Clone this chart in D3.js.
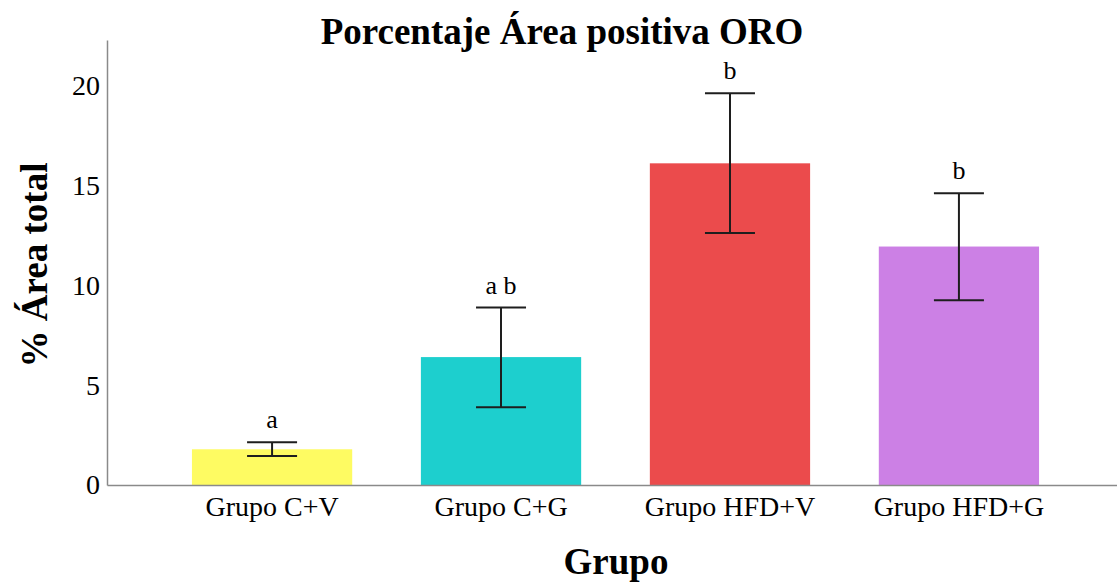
<!DOCTYPE html>
<html>
<head>
<meta charset="utf-8">
<script src="https://cdn.jsdelivr.net/npm/d3@7"></script>
<style>
  html, body { margin: 0; padding: 0; background: #fff; }
  svg { display: block; }
  text { font-family: "Liberation Serif", "Times New Roman", serif; fill: #000; }
</style>
</head>
<body>
<svg id="chart" width="1117" height="582"></svg>
<script>
// Mean % positive area per group, with error bar limits and significance letters
const groups = ["Grupo C+V", "Grupo C+G", "Grupo HFD+V", "Grupo HFD+G"];
const means = [1.79, 6.41, 16.12, 11.95];
const lower = [1.45, 3.89, 12.63, 9.26];
const upper = [2.14, 8.89, 19.63, 14.62];
const letters = ["a", "a b", "b", "b"];
const colors = ["#fefb62", "#1dcfce", "#eb4b4c", "#cc80e5"];
const yTicks = [0, 5, 10, 15, 20];

const serif = '"Liberation Serif", "Times New Roman", serif';
const svg = d3.select("#chart");
const margin = { left: 107, top: 40, bottom: 97 };
const baseY = 582 - margin.bottom;

const x = d3.scaleBand()
  .domain(groups)
  .range([margin.left, 1124])
  .paddingInner(0.3)
  .paddingOuter(0.371);

const y = d3.scaleLinear()
  .domain([0, 22.3])
  .range([baseY, margin.top]);

// Bars
svg.append("g").selectAll("rect")
  .data(groups)
  .join("rect")
  .attr("x", d => x(d))
  .attr("width", x.bandwidth())
  .attr("y", (d, i) => y(means[i]))
  .attr("height", (d, i) => y(0) - y(means[i]))
  .attr("fill", (d, i) => colors[i]);

// Axes
const yAxis = svg.append("g")
  .attr("transform", `translate(${margin.left},0)`)
  .call(d3.axisLeft(y).tickValues(yTicks).tickSize(0).tickPadding(7))
  .attr("font-family", serif);
yAxis.select(".domain").attr("stroke", "#8a8a8a").attr("stroke-width", 1.5);
yAxis.selectAll("text").style("font-size", "28px");

const xAxis = svg.append("g")
  .attr("transform", `translate(0,${baseY})`)
  .call(d3.axisBottom(x).tickSize(0).tickPadding(11))
  .attr("font-family", serif);
xAxis.select(".domain").attr("stroke", "#8a8a8a").attr("stroke-width", 1.5);
xAxis.selectAll("text").style("font-size", "28px");

// Error bars
const capHalf = 25;
const eb = svg.append("g").attr("stroke", "#1e1e1e").attr("stroke-width", 2);
groups.forEach((g, i) => {
  const cx = x(g) + x.bandwidth() / 2;
  eb.append("line").attr("x1", cx).attr("x2", cx).attr("y1", y(upper[i])).attr("y2", y(lower[i]));
  eb.append("line").attr("x1", cx - capHalf).attr("x2", cx + capHalf).attr("y1", y(upper[i])).attr("y2", y(upper[i]));
  eb.append("line").attr("x1", cx - capHalf).attr("x2", cx + capHalf).attr("y1", y(lower[i])).attr("y2", y(lower[i]));
});

// Significance letters
svg.append("g").selectAll("text")
  .data(groups)
  .join("text")
  .attr("x", d => x(d) + x.bandwidth() / 2)
  .attr("y", (d, i) => y(upper[i]) - 14)
  .attr("text-anchor", "middle")
  .style("font-size", "26px")
  .text((d, i) => letters[i]);

// Titles
svg.append("text")
  .attr("x", 562).attr("y", 44)
  .attr("text-anchor", "middle")
  .style("font-size", "37px").style("font-weight", "bold")
  .text("Porcentaje Área positiva ORO");

svg.append("text")
  .attr("x", 616).attr("y", 574)
  .attr("text-anchor", "middle")
  .style("font-size", "37px").style("font-weight", "bold")
  .text("Grupo");

svg.append("text")
  .attr("transform", `translate(47,265) rotate(-90)`)
  .attr("text-anchor", "middle")
  .style("font-size", "37px").style("font-weight", "bold")
  .text("% Área total");
</script>
</body>
</html>
